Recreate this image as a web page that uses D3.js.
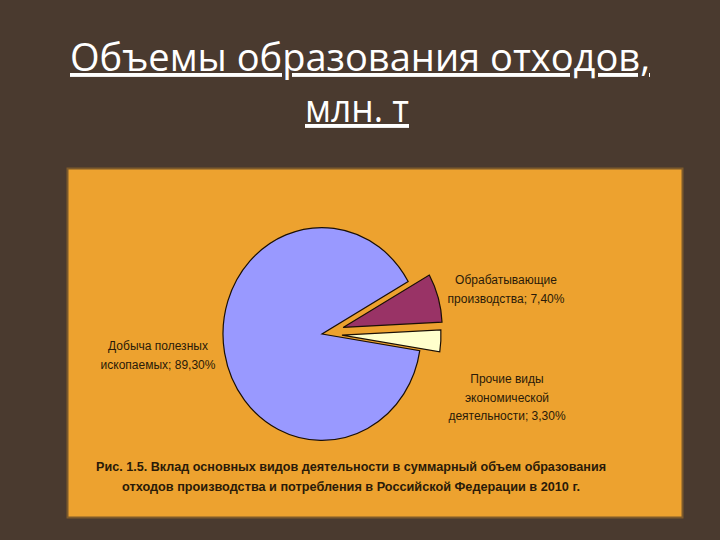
<!DOCTYPE html>
<html><head><meta charset="utf-8">
<script src="https://cdn.jsdelivr.net/npm/d3@7"></script>
<style>body{margin:0;background:#4a3a2f;}svg{display:block;}</style>
</head><body>
<svg id="c" width="720" height="540"></svg>
<script>
const categories = ["Обрабатывающие производства", "Прочие виды экономической деятельности", "Добыча полезных ископаемых"];
const values = [7.4, 3.3, 89.3];
const labelLines = [
  ["Обрабатывающие", "производства; 7,40%"],
  ["Прочие виды", "экономической", "деятельности; 3,30%"],
  ["Добыча полезных", "ископаемых; 89,30%"]
];
const colors = ["#993366", "#ffffcc", "#9999ff"];
const titleLines = ["Объемы образования отходов,", "млн. т"];
const captionLines = ["Рис. 1.5.  Вклад основных видов деятельности в суммарный объем образования",
                      "отходов производства и потребления в Российской Федерации в 2010 г."];

const svg = d3.select("#c");
svg.append("rect").attr("width",720).attr("height",540).attr("fill","#4a3a2f");

// title
const tl = svg.append("g").attr("font-family","'Open Sans', sans-serif").attr("fill","#ffffff")
  .attr("text-anchor","middle").attr("font-size",39);
tl.append("text").attr("x",360).attr("y",71).attr("text-decoration","underline")
  .attr("textLength",580).attr("lengthAdjust","spacingAndGlyphs").text(titleLines[0]);
tl.append("text").attr("x",357).attr("y",122).attr("text-decoration","underline")
  .attr("textLength",104).attr("lengthAdjust","spacingAndGlyphs").text(titleLines[1]);

// panel
svg.append("rect").attr("x",67.5).attr("y",168.5).attr("width",615).attr("height",349)
  .attr("fill","#eda22f").attr("stroke","#7d5a2c").attr("stroke-width",2);

// pie
const cx = 322, cy = 334, r = 99, sy = 1.075;
const pie = d3.pie().sort(null).value(d=>d)
  .startAngle(60.5*Math.PI/180).endAngle((60.5+360)*Math.PI/180);
const arcs = pie(values);
const arc = d3.arc().innerRadius(0).outerRadius(r);
const explode = [22, 20, 0];
const g = svg.append("g").attr("transform",`translate(${cx},${cy}) scale(1,${sy})`);
g.selectAll("path").data(arcs).join("path")
  .attr("d",arc)
  .attr("transform",(d,i)=>{
    const a=(d.startAngle+d.endAngle)/2;
    return `translate(${explode[i]*Math.sin(a)},${-explode[i]*Math.cos(a)})`;
  })
  .attr("fill",(d,i)=>colors[i])
  .attr("stroke","#1a0f05").attr("stroke-width",1.2)
  .attr("vector-effect","non-scaling-stroke");

// labels
const labelPos = [[506,284],[507,383],[158,350]];
const lg = svg.append("g").attr("font-family","'Liberation Sans', Arial, sans-serif")
  .attr("font-size",12).attr("fill","#2a1a08").attr("text-anchor","middle");
labelLines.forEach((lines,i)=>{
  const t = lg.append("text").attr("transform",`translate(${labelPos[i][0]},${labelPos[i][1]})`);
  lines.forEach((s,j)=>t.append("tspan").attr("x",0).attr("y",j*18.5).text(s));
});

// caption
const cg = svg.append("g").attr("font-family","'Liberation Sans', Arial, sans-serif")
  .attr("font-size",12.5).attr("font-weight","bold").attr("fill","#2a1a08").attr("text-anchor","middle");
cg.append("text").attr("x",351).attr("y",471).attr("textLength",510).attr("lengthAdjust","spacingAndGlyphs").text(captionLines[0]);
cg.append("text").attr("x",351).attr("y",491).attr("textLength",458).attr("lengthAdjust","spacingAndGlyphs").text(captionLines[1]);
</script>
</body></html>
